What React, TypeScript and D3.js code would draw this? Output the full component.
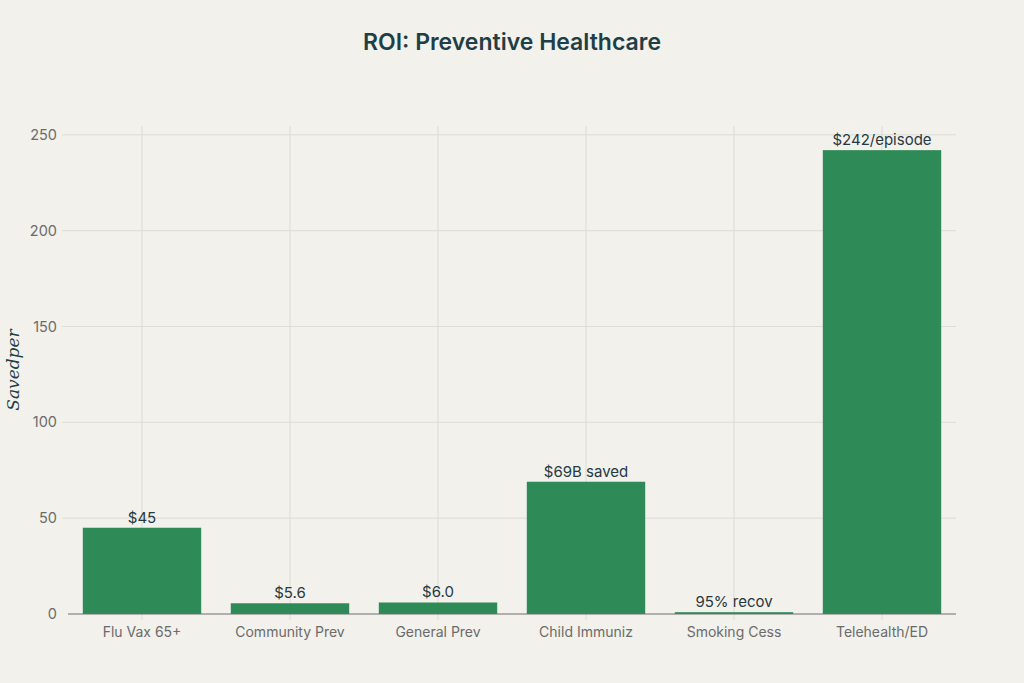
import React from 'react';
import * as d3 from 'd3';

const categories = ['Flu Vax 65+', 'Community Prev', 'General Prev', 'Child Immuniz', 'Smoking Cess', 'Telehealth/ED'];
const values = [45, 5.6, 6.0, 69, 0.95, 242];
const valueLabels = ['$45', '$5.6', '$6.0', '$69B saved', '95% recov', '$242/episode'];
const yTicks = [0, 50, 100, 150, 200, 250];

const W = 1024;
const H = 683;
const margin = { top: 126, right: 68, bottom: 69, left: 68 };

export default function App() {
  const svgRef = React.useRef<SVGSVGElement | null>(null);

  React.useEffect(() => {
    document.body.style.margin = '0';
    const svg = d3.select(svgRef.current);
    svg.selectAll('*').remove();

    const innerW = W - margin.left - margin.right;
    const innerH = H - margin.top - margin.bottom;
    const font = 'Inter, "Liberation Sans", sans-serif';

    svg.append('rect').attr('width', W).attr('height', H).attr('fill', '#f2f1ec');

    const x = d3.scaleBand<string>().domain(categories).range([0, innerW]).paddingInner(0.2).paddingOuter(0.1);
    const y = d3.scaleLinear().domain([0, 254.6]).range([innerH, 0]);

    const g = svg.append('g').attr('transform', `translate(${margin.left},${margin.top})`);

    // grid
    g.append('g')
      .selectAll('line')
      .data(yTicks.filter(t => t > 0))
      .join('line')
      .attr('x1', -6)
      .attr('x2', innerW)
      .attr('y1', d => y(d))
      .attr('y2', d => y(d))
      .attr('stroke', '#dcdcd8')
      .attr('stroke-width', 1);

    g.append('g')
      .selectAll('line')
      .data(categories)
      .join('line')
      .attr('x1', d => x(d)! + x.bandwidth() / 2)
      .attr('x2', d => x(d)! + x.bandwidth() / 2)
      .attr('y1', 0)
      .attr('y2', innerH + 6)
      .attr('stroke', '#dcdcd8')
      .attr('stroke-width', 1);

    // y tick labels
    g.append('g')
      .selectAll('text')
      .data(yTicks)
      .join('text')
      .attr('x', -11)
      .attr('y', d => y(d))
      .attr('dy', '0.35em')
      .attr('text-anchor', 'end')
      .attr('font-family', font)
      .attr('font-size', 14.5)
      .attr('fill', '#6b6b6b')
      .text(d => d);

    // bars
    g.append('g')
      .selectAll('rect')
      .data(values)
      .join('rect')
      .attr('x', (_, i) => x(categories[i])!)
      .attr('width', x.bandwidth())
      .attr('y', d => y(d))
      .attr('height', d => innerH - y(d))
      .attr('fill', '#2e8b57');

    // value labels
    g.append('g')
      .selectAll('text')
      .data(values)
      .join('text')
      .attr('x', (_, i) => x(categories[i])! + x.bandwidth() / 2)
      .attr('y', d => y(d) - 5)
      .attr('text-anchor', 'middle')
      .attr('font-family', font)
      .attr('font-size', 15)
      .attr('fill', '#26393f')
      .text((_, i) => valueLabels[i]);

    // zero line
    g.append('line')
      .attr('x1', 0)
      .attr('x2', innerW)
      .attr('y1', y(0))
      .attr('y2', y(0))
      .attr('stroke', '#6f6f6f')
      .attr('stroke-width', 1);

    // x labels
    g.append('g')
      .selectAll('text')
      .data(categories)
      .join('text')
      .attr('x', d => x(d)! + x.bandwidth() / 2)
      .attr('y', innerH + 23)
      .attr('text-anchor', 'middle')
      .attr('font-family', font)
      .attr('font-size', 14)
      .attr('fill', '#6b6b6b')
      .text(d => d);

    // y axis title
    svg.append('text')
      .attr('transform', `translate(19,${margin.top + innerH / 2}) rotate(-90)`)
      .attr('text-anchor', 'middle')
      .attr('font-family', '"DejaVu Serif", "Liberation Serif", serif')
      .attr('font-style', 'italic')
      .attr('font-size', 17)
      .attr('fill', '#1f3e46')
      .text('Savedper');

    // title
    svg.append('text')
      .attr('x', W / 2)
      .attr('y', 50)
      .attr('text-anchor', 'middle')
      .attr('font-family', font)
      .attr('font-weight', 600)
      .attr('font-size', 23)
      .attr('fill', '#1f3e46')
      .text('ROI: Preventive Healthcare');
  }, []);

  return <svg ref={svgRef} width={W} height={H} style={{ display: 'block' }} />;
}
